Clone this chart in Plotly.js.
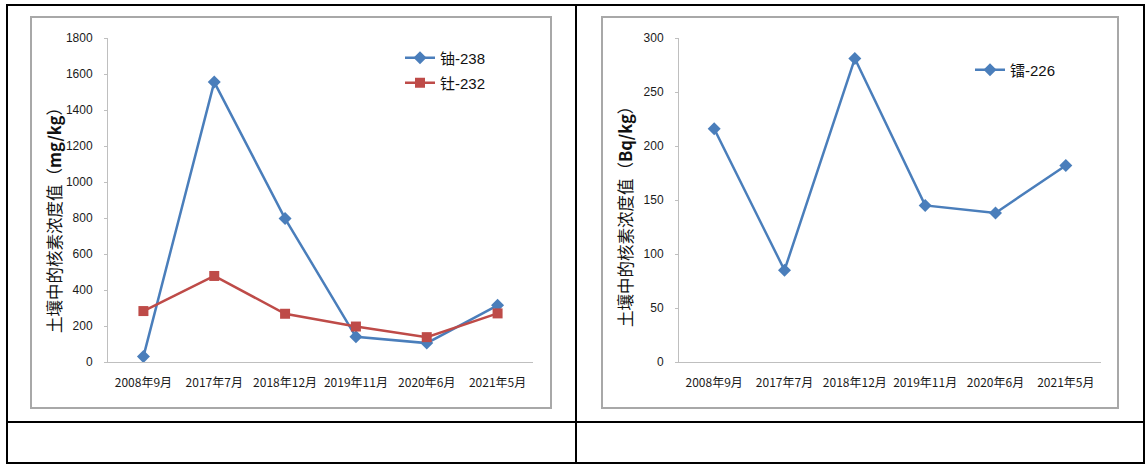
<!DOCTYPE html>
<html>
<head>
<meta charset="utf-8">
<script src="https://cdn.plot.ly/plotly-3.0.1.min.js"></script>
<style>html,body{margin:0;padding:0;background:#fff;}#chart{width:1146px;height:465px;}</style>
</head>
<body>
<div id="chart"></div>
<script>
// ---- data ----
const categories = ["2008年9月", "2017年7月", "2018年12月", "2019年11月", "2020年6月", "2021年5月"];
const u238 = [30, 1555, 797, 140, 105, 315];
const th232 = [283, 478, 268, 197, 138, 270];
const ra226 = [216, 85, 281, 145, 138, 182];
const leftTicks = [0, 200, 400, 600, 800, 1000, 1200, 1400, 1600, 1800];
const rightTicks = [0, 50, 100, 150, 200, 250, 300];
const nameU = "铀-238", nameTh = "钍-232", nameRa = "镭-226";
const titleLeft = "土壤中的核素浓度值（<b>mg/kg</b>）";
const titleRight = "土壤中的核素浓度值（<b>Bq/kg</b>）";

// ---- layout helpers (pixel -> paper) ----
const W = 1146, H = 465;
const px = x => x / W;
const py = y => 1 - y / H;
const BLUE = "#4A7EBB", RED = "#BE4B48";
const tickFont = {family: "Liberation Sans, Arial, sans-serif", size: 12, color: "#1a1a1a"};
const catFont = {family: "Noto Sans CJK SC, sans-serif", size: 12, color: "#1a1a1a"};

const traces = [
  {x: categories, y: u238, name: nameU, type: "scatter", mode: "lines+markers",
   line: {color: BLUE, width: 2.5}, marker: {symbol: "diamond", size: 10, color: BLUE},
   xaxis: "x", yaxis: "y", legend: "legend"},
  {x: categories, y: th232, name: nameTh, type: "scatter", mode: "lines+markers",
   line: {color: RED, width: 2.5}, marker: {symbol: "square", size: 10, color: RED},
   xaxis: "x", yaxis: "y", legend: "legend3"},
  {x: categories, y: ra226, name: nameRa, type: "scatter", mode: "lines+markers",
   line: {color: BLUE, width: 2.5}, marker: {symbol: "diamond", size: 10, color: BLUE},
   xaxis: "x2", yaxis: "y2", legend: "legend2"}
];

function xax(domain, anchor) {
  return {domain: domain, anchor: anchor, type: "category", range: [-0.5, 5.5],
    showline: true, linecolor: "#BFBFBF", linewidth: 1, showgrid: false, zeroline: false,
    ticks: "", ticklabelstandoff: 10, tickfont: catFont, fixedrange: true};
}
function yax(domain, anchor, range, ticks) {
  return {domain: domain, anchor: anchor, range: range, tickvals: ticks, ticktext: ticks.map(String),
    showline: true, linecolor: "#BFBFBF", linewidth: 1, showgrid: false, zeroline: false,
    ticks: "outside", ticklen: 3, tickcolor: "#BFBFBF", ticklabelstandoff: 9,
    tickfont: tickFont, fixedrange: true};
}
const legendFont = {family: "Liberation Sans, Noto Sans CJK SC, sans-serif", size: 15, color: "#111"};
function leg(x, y) {
  return {x: px(x), y: py(y), xanchor: "left", yanchor: "middle", bgcolor: "rgba(0,0,0,0)",
    borderwidth: 0, font: legendFont, itemwidth: 30};
}

const lineBlack = {color: "#000", width: 2};
const frameGray = {color: "#A8A8A8", width: 2};
const shapes = [
  {type: "rect", xref: "paper", yref: "paper", x0: px(7), x1: px(1144), y0: py(463), y1: py(5), line: lineBlack},
  {type: "line", xref: "paper", yref: "paper", x0: px(576), x1: px(576), y0: py(463), y1: py(5), line: lineBlack},
  {type: "line", xref: "paper", yref: "paper", x0: px(7), x1: px(1144), y0: py(422), y1: py(422), line: lineBlack},
  {type: "rect", xref: "paper", yref: "paper", x0: px(31), x1: px(551), y0: py(408), y1: py(17), line: frameGray},
  {type: "rect", xref: "paper", yref: "paper", x0: px(602), x1: px(1118), y0: py(408), y1: py(17), line: frameGray}
];

const titleFont = {family: "Noto Sans CJK SC, sans-serif", size: 16.5, color: "#111"};
const layout = {
  width: W, height: H, margin: {l: 0, r: 0, t: 0, b: 0},
  paper_bgcolor: "#fff", plot_bgcolor: "rgba(0,0,0,0)",
  showlegend: true,
  xaxis: xax([px(108), px(533)], "y"),
  yaxis: yax([py(362), py(38)], "x", [0, 1800], leftTicks),
  xaxis2: xax([px(679), px(1101)], "y2"),
  yaxis2: yax([py(362), py(38)], "x2", [0, 300], rightTicks),
  legend: leg(400, 58),
  legend3: leg(400, 83),
  legend2: leg(970, 70),
  shapes: shapes,
  annotations: [
    {text: titleLeft, xref: "paper", yref: "paper", x: px(54), y: py(216), textangle: -90,
     showarrow: false, font: titleFont, xanchor: "center", yanchor: "middle"},
    {text: titleRight, xref: "paper", yref: "paper", x: px(625), y: py(213), textangle: -90,
     showarrow: false, font: titleFont, xanchor: "center", yanchor: "middle"}
  ]
};

Plotly.newPlot("chart", traces, layout, {displayModeBar: false, staticPlot: true});
</script>
</body>
</html>
